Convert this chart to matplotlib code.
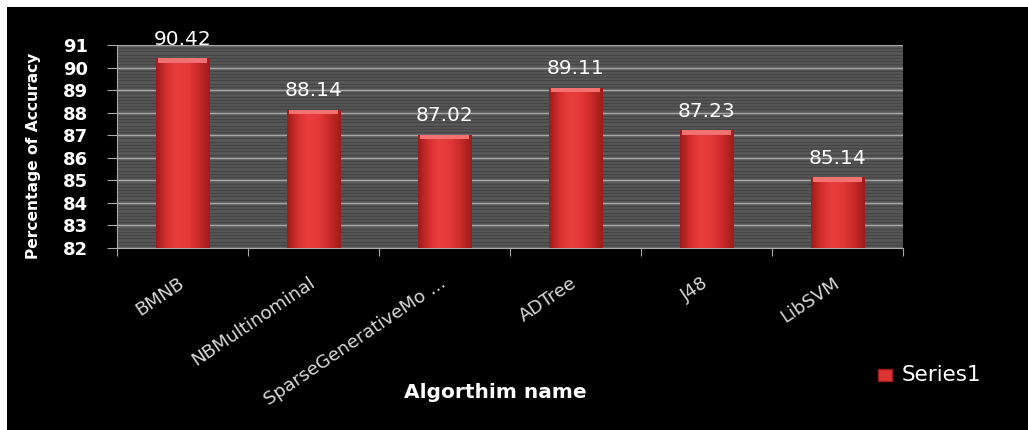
import matplotlib
matplotlib.use("Agg")
import matplotlib.pyplot as plt
import numpy as np
from matplotlib.patches import Rectangle
from matplotlib.colors import LinearSegmentedColormap

categories = ["BMNB", "NBMultinominal", "SparseGenerativeMo ...", "ADTree", "J48", "LibSVM"]
accuracy = [90.42, 88.14, 87.02, 89.11, 87.23, 85.14]
y_ticks = [82, 83, 84, 85, 86, 87, 88, 89, 90, 91]
series_name = "Series1"

plt.rcParams['font.family'] = ['DejaVu Sans']

W, H = 1028, 430
fig = plt.figure(figsize=(W / 100, H / 100), dpi=100, facecolor='white')
# black chart area (white margin at top and left)
fig.patches.append(Rectangle((7 / W, 0), 1 - 7 / W, 1 - 7 / H, transform=fig.transFigure,
                             facecolor='black', edgecolor='none', zorder=-10))

ax = fig.add_axes([117 / W, (H - 248) / H, (903 - 117) / W, (248 - 45) / H])
ax.set_facecolor('#585858')

x = np.arange(len(categories))
bar_width = 0.41
bars = ax.bar(x, accuracy, width=bar_width, bottom=0, color='#de3434', edgecolor='none',
              linewidth=0, zorder=3)

# cylinder-like horizontal shading, clipped to each bar
cmap = LinearSegmentedColormap.from_list(
    'barshade', ['#9e1c1c', '#d83030', '#e83e3e', '#e23838', '#c92a2a', '#9e1c1c'])
grad = np.linspace(0, 1, 64).reshape(1, -1)
for b in bars:
    im = ax.imshow(grad, cmap=cmap, aspect='auto', zorder=3.5,
                   extent=(b.get_x(), b.get_x() + b.get_width(), 82, b.get_height()))
    im.set_clip_path(b)
    # glossy lighter cap at the top
    ax.add_patch(Rectangle((b.get_x() + 0.02, b.get_height() - 0.2), b.get_width() - 0.04, 0.2,
                           facecolor='#f27272', edgecolor='none', zorder=4))

ax.set_ylim(82, 91)
ax.set_xlim(-0.5, len(categories) - 0.5)
ax.set_yticks(y_ticks)
ax.set_yticklabels([str(v) for v in y_ticks], color='white', fontsize=13, fontweight='bold')
ax.yaxis.set_minor_locator(matplotlib.ticker.MultipleLocator(1 / 7))
ax.grid(axis='y', which='minor', color='#454545', linewidth=1.0, zorder=1)
ax.grid(axis='y', which='major', color='#a8a8a8', linewidth=1.0, zorder=2)
ax.tick_params(axis='y', which='minor', length=0)
ax.tick_params(axis='y', which='major', colors='#aaaaaa', length=7, pad=14, labelcolor='white')

# x ticks at category boundaries, labels at centres
ax.set_xticks(np.arange(-0.5, len(categories), 1))
ax.set_xticklabels([])
ax.tick_params(axis='x', which='major', colors='#aaaaaa', length=6, direction='out')
ax.set_xticks(x, minor=True)
ax.set_xticklabels(categories, minor=True, rotation=34, ha='right', va='center',
                   rotation_mode='anchor', color='#d8d8d8', fontsize=13.2)
ax.tick_params(axis='x', which='minor', length=0, pad=24)

for s in ['top', 'right']:
    ax.spines[s].set_visible(False)
for s in ['left', 'bottom']:
    ax.spines[s].set_color('#aaaaaa')

for xi, v in zip(x, accuracy):
    ax.text(xi, v + 0.42, f"{v:.2f}", ha='center', va='bottom', color='white', fontsize=14.5, zorder=5)

fig.text(34 / W, 1 - 156 / H, "Percentage of Accuracy", rotation=90, ha='center', va='center',
         color='white', fontsize=11.2, fontweight='bold')
fig.text(495 / W, 1 - 393 / H, "Algorthim name", ha='center', va='center', color='white',
         fontsize=14.5, fontweight='bold')

# legend
fig.patches.append(Rectangle((878 / W, 1 - 381 / H), 14 / W, 12 / H, transform=fig.transFigure,
                             facecolor='#de3434', edgecolor='#9e1c1c', zorder=2))
fig.text(902 / W, 1 - 375 / H, series_name, ha='left', va='center', color='white', fontsize=15.5)

fig.savefig("out.png", dpi=100, facecolor='white')
